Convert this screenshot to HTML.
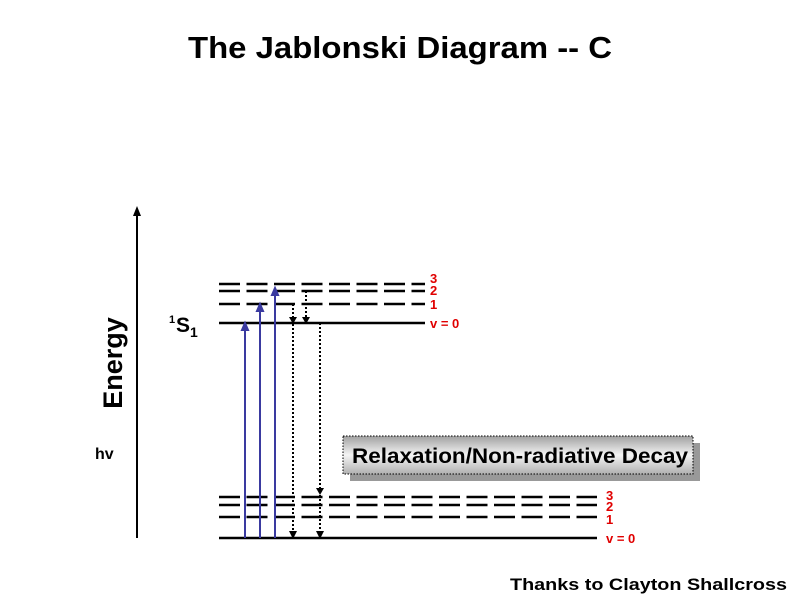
<!DOCTYPE html>
<html><head><meta charset="utf-8"><style>
body{margin:0;background:#fff}
svg{display:block}
text{font-family:"Liberation Sans",sans-serif;font-weight:bold}
</style></head><body>
<svg width="800" height="600" viewBox="0 0 800 600" xmlns="http://www.w3.org/2000/svg">
<defs>
<linearGradient id="g" x1="0" y1="0" x2="0" y2="1"><stop offset="0" stop-color="#a0a0a0"/><stop offset="0.5" stop-color="#f4f4f4"/><stop offset="1" stop-color="#b0b0b0"/></linearGradient>
</defs>
<text x="400" y="58" font-size="31" text-anchor="middle" textLength="424" lengthAdjust="spacingAndGlyphs">The Jablonski Diagram -- C</text>
<line x1="137" y1="538" x2="137" y2="214" stroke="#000" stroke-width="2"/>
<path d="M133,216 L137,206 L141,216z" fill="#000"/>
<text transform="translate(122,363) rotate(-90)" font-size="27" text-anchor="middle">Energy</text>
<text x="95" y="459" font-size="16">hv</text>
<text x="176" y="332" font-size="21">S</text>
<text x="169" y="323" font-size="11">1</text>
<text x="190" y="337" font-size="14">1</text>
<g stroke="#000" stroke-width="2.5">
<line x1="219" y1="323" x2="425" y2="323"/>
<line x1="219" y1="304" x2="425" y2="304" stroke-dasharray="21 6.5"/>
<line x1="219" y1="291" x2="425" y2="291" stroke-dasharray="21 6.5"/>
<line x1="219" y1="284" x2="425" y2="284" stroke-dasharray="21 6.5"/>
<line x1="219" y1="538" x2="597" y2="538"/>
<line x1="219" y1="517" x2="597" y2="517" stroke-dasharray="21 6.5"/>
<line x1="219" y1="505" x2="597" y2="505" stroke-dasharray="21 6.5"/>
<line x1="219" y1="497" x2="597" y2="497" stroke-dasharray="21 6.5"/>
</g>
<g fill="#e00000" font-size="13">
<text x="430" y="283">3</text><text x="430" y="295">2</text><text x="430" y="309">1</text>
<text x="430" y="328">v = 0</text>
<text x="606" y="500">3</text><text x="606" y="511">2</text><text x="606" y="524">1</text>
<text x="606" y="543">v = 0</text>
</g>
<g stroke="#3a3aa0" stroke-width="2" fill="#3a3aa0">
<line x1="245" y1="538" x2="245" y2="328"/><path d="M242,330 L245,323 L248,330z"/>
<line x1="260" y1="538" x2="260" y2="309"/><path d="M257,311 L260,304 L263,311z"/>
<line x1="275" y1="538" x2="275" y2="293"/><path d="M272,295 L275,288 L278,295z"/>
</g>
<g stroke="#000" stroke-width="2" stroke-dasharray="2 2">
<line x1="293" y1="304" x2="293" y2="532"/>
<line x1="306" y1="291" x2="306" y2="317"/>
<line x1="320" y1="323" x2="320" y2="532"/>
</g>
<g fill="#000">
<path d="M289,317 L293,324 L297,317z"/><path d="M302,317 L306,324 L310,317z"/>
<path d="M289,531 L293,539 L297,531z"/><path d="M316,531 L320,539 L324,531z"/>
<path d="M316,488 L320,495 L324,488z"/>
</g>
<rect x="350" y="443" width="350" height="38" fill="#999"/>
<rect x="343" y="436" width="350" height="38" fill="url(#g)" stroke="#000" stroke-width="1" stroke-dasharray="1.5 1.5"/>
<text x="352" y="463" font-size="21" textLength="336" lengthAdjust="spacingAndGlyphs">Relaxation/Non-radiative Decay</text>
<text x="787" y="590" font-size="17" text-anchor="end" textLength="277" lengthAdjust="spacingAndGlyphs">Thanks to Clayton Shallcross</text>
</svg>
</body></html>
